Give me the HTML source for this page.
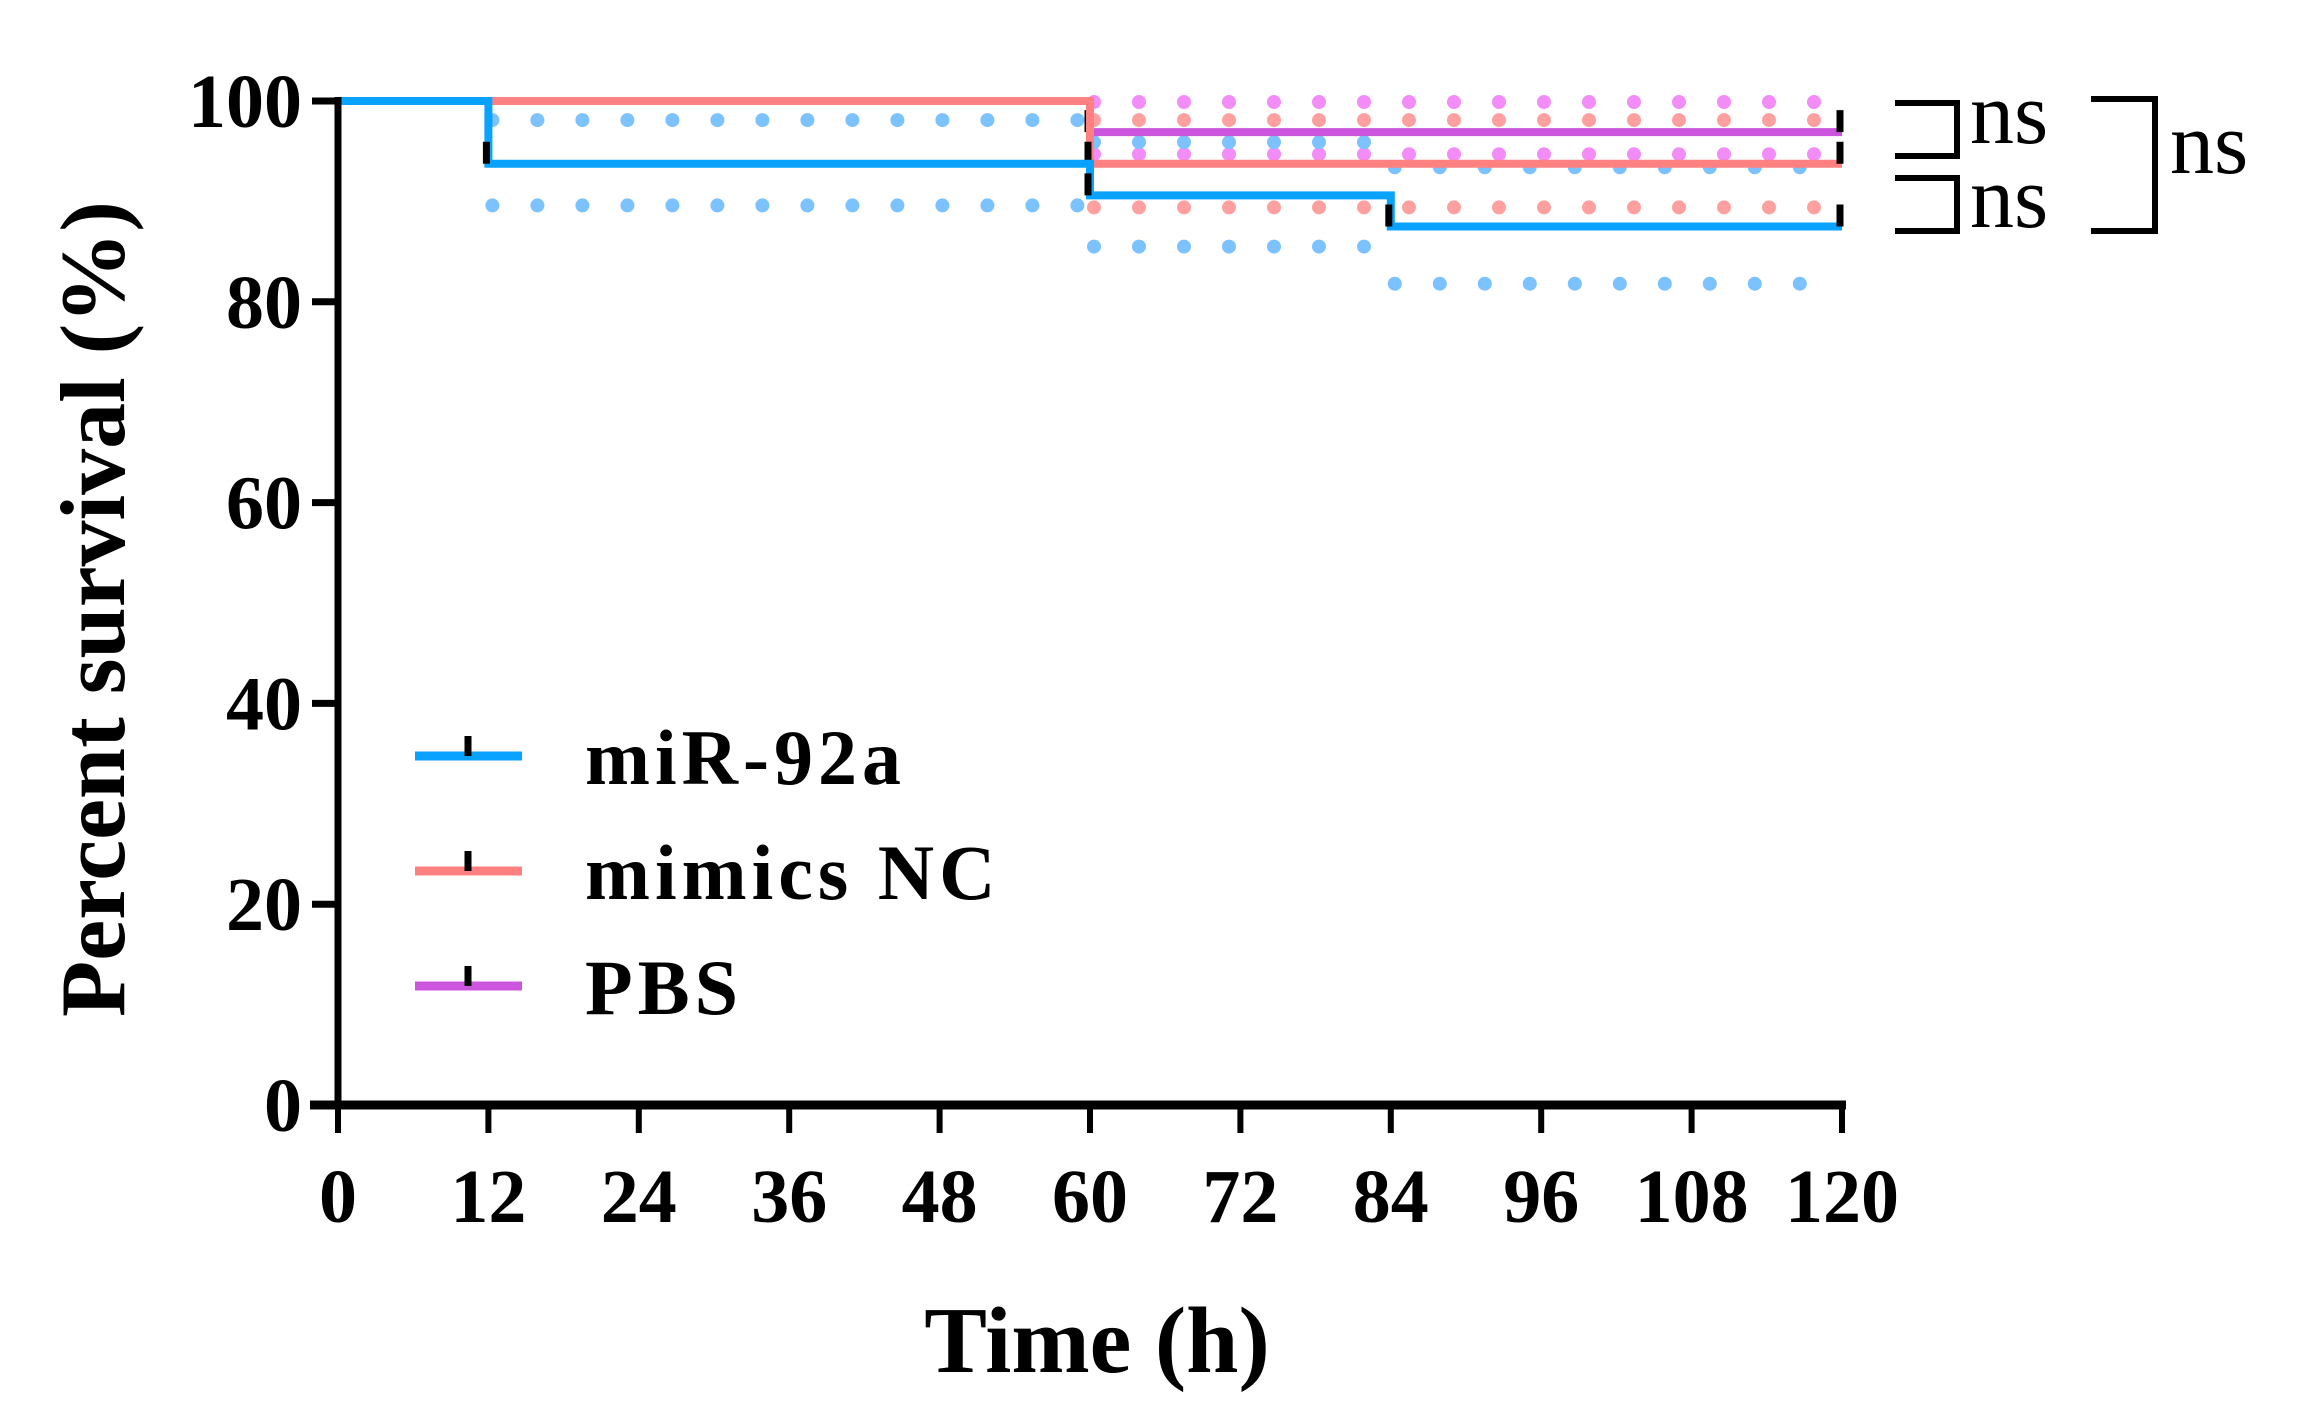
<!DOCTYPE html>
<html><head><meta charset="utf-8"><style>
html,body{margin:0;padding:0;background:#fff;}
svg{display:block;font-family:"Liberation Serif",serif;}
</style></head><body>
<svg id="chart" width="2302" height="1424" viewBox="0 0 2302 1424" xmlns="http://www.w3.org/2000/svg">
<g id="bands"></g>
<g id="lines"></g>
<g id="axes"></g>
<g id="legend"></g>
<text transform="translate(124,609) rotate(-90)" text-anchor="middle" font-size="92" font-weight="bold">Percent survival (%)</text>
<text x="1097" y="1372" text-anchor="middle" font-size="94" font-weight="bold">Time (h)</text>
<g fill="none" stroke="#000" stroke-width="6">
<path d="M1895,103 H1957 V156 H1895"/>
<path d="M1895,178 H1957 V231 H1895"/>
<path d="M2091,99 H2155 V231 H2091"/>
</g>
<text x="1970" y="143" font-size="88">ns</text>
<text x="1970" y="227" font-size="88">ns</text>
<text x="2170" y="173" font-size="88">ns</text>
</svg>
<script>
const xTicks = [0,12,24,36,48,60,72,84,96,108,120];
const yTicks = [0,20,40,60,80,100];
const seriesNames = ["miR-92a","mimics NC","PBS"];
const miRTimes = [0,12,60,84,120];
const miRSurv = [100,93.75,90.6,87.5,87.5];
const ncTimes = [0,60,120];
const ncSurv = [100,93.75,93.75];
const pbsTimes = [0,60,120];
const pbsSurv = [100,96.9,96.9];
const miRUpper = [[12,60,98.1],[60,84,95.9],[84,120,93.4]];
const miRLower = [[12,60,89.6],[60,84,85.5],[84,120,81.8]];
const ncUpper = [[60,120,98.1]];
const ncLower = [[60,120,89.4]];
const pbsUpper = [[60,120,99.9]];
const pbsLower = [[60,120,94.7]];

const NS="http://www.w3.org/2000/svg";
const X0=338,X1=1842,Y0=1105,Y1=101;
function sx(t){return X0+(t-0)/(120-0)*(X1-X0);}
function sy(v){return Y0-(v-0)/(100-0)*(Y0-Y1);}
function mk(tag,attrs,parent){const e=document.createElementNS(NS,tag);for(const k in attrs)e.setAttribute(k,attrs[k]);parent.appendChild(e);return e;}

const bands=document.getElementById('bands');
function drawBand(segs,color,name){
  segs.forEach(s=>{
    const p=mk('line',{x1:sx(s[0])+4,x2:sx(s[1]),y1:sy(s[2]),y2:sy(s[2]),stroke:color,'stroke-width':14,'stroke-linecap':'round','stroke-dasharray':'0 45'},bands);
    
    
  });
}
drawBand(pbsUpper,'#f28df7','pbs-ci-upper');
drawBand(pbsLower,'#f28df7','pbs-ci-lower');
drawBand(ncUpper,'#ffa0a0','mimics-nc-ci-upper');
drawBand(ncLower,'#ffa0a0','mimics-nc-ci-lower');
drawBand(miRUpper,'#7cc2ff','mir92a-ci-upper');
drawBand(miRLower,'#7cc2ff','mir92a-ci-lower');

const lines=document.getElementById('lines');
function drawStep(times,surv,color,name){
  let d='M'+sx(times[0])+','+sy(surv[0]);
  for(let i=1;i<times.length;i++){d+=' H'+sx(times[i])+' V'+sy(surv[i]);}
  const p=mk('path',{d:d,fill:'none',stroke:color,'stroke-width':8},lines);
  
  
  for(let i=1;i<times.length;i++){
    const c=mk('line',{x1:sx(times[i])-2,x2:sx(times[i])-2,y1:sy(surv[i])-22,y2:sy(surv[i]),stroke:'#000','stroke-width':7},lines);
    
    
  }
}
drawStep(pbsTimes,pbsSurv,'#cc55dd','pbs-line');
drawStep(ncTimes,ncSurv,'#ff8080','mimics-nc-line');
drawStep(miRTimes,miRSurv,'#0aa2ff','mir92a-line');

const axes=document.getElementById('axes');
let a=mk('line',{x1:X0,x2:X0,y1:Y1-4,y2:Y0+4,stroke:'#000','stroke-width':7},axes);


a=mk('line',{x1:X0-28,x2:X1+4,y1:Y0,y2:Y0,stroke:'#000','stroke-width':9},axes);


yTicks.forEach(v=>{
  const t=mk('line',{x1:X0-26,x2:X0,y1:sy(v),y2:sy(v),stroke:'#000','stroke-width':7},axes);
  
  
  const l=mk('text',{x:X0-36,y:sy(v)+26,'text-anchor':'end','font-size':76,'font-weight':'bold'},axes);
  l.textContent=v;
  
  
});
xTicks.forEach(v=>{
  const t=mk('line',{x1:sx(v),x2:sx(v),y1:Y0,y2:Y0+28,stroke:'#000','stroke-width':6},axes);
  
  
  const l=mk('text',{x:sx(v),y:1222,'text-anchor':'middle','font-size':76,'font-weight':'bold'},axes);
  l.textContent=v;
  
  
});

const legend=document.getElementById('legend');
const legColors=['#0aa2ff','#ff8080','#cc55dd'];
const legY=[756,871,986];
seriesNames.forEach((n,i)=>{
  const l=mk('line',{x1:415,x2:522,y1:legY[i],y2:legY[i],stroke:legColors[i],'stroke-width':9},legend);
  
  
  const c=mk('line',{x1:468,x2:468,y1:legY[i]-20,y2:legY[i],stroke:'#000','stroke-width':7},legend);
  
  
  const t=mk('text',{x:585,y:legY[i]+28,'font-size':78,'font-weight':'bold','letter-spacing':5},legend);
  t.textContent=n;
  
  
});
</script>
</body></html>
